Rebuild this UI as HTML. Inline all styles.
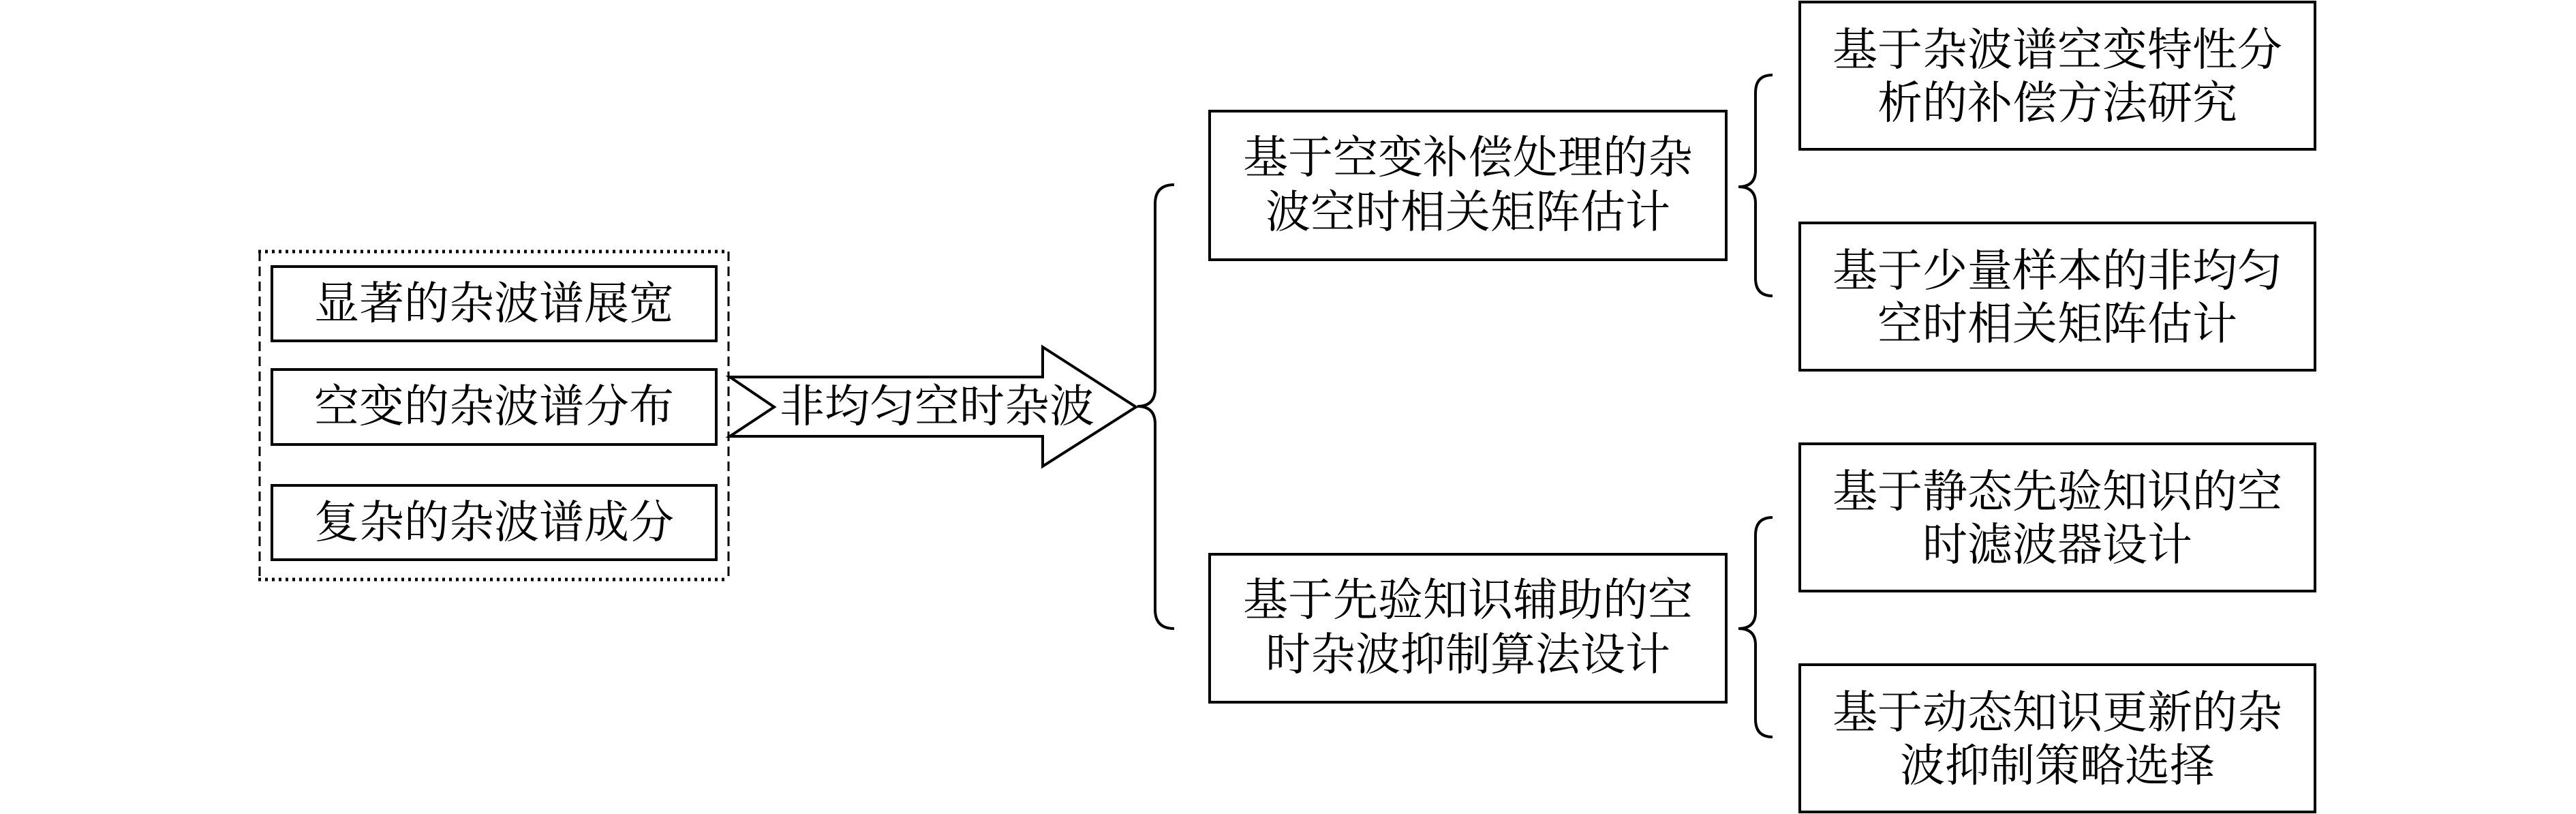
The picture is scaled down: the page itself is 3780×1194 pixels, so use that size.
<!DOCTYPE html>
<html><head><meta charset="utf-8"><style>
html,body{margin:0;padding:0;background:#fff;}
svg{display:block;}
text{font-family:"Liberation Serif","Noto Serif CJK SC",serif;font-size:66px;fill:#000;}
</style></head><body>
<svg width="3780" height="1194" viewBox="0 0 3780 1194" xmlns="http://www.w3.org/2000/svg">
<g fill="none" stroke="#000" stroke-width="4">
<!-- dashed group -->
<line x1="379" y1="369" x2="1069" y2="369" stroke-dasharray="4 6" stroke-width="5"/>
<line x1="379" y1="850" x2="1069" y2="850" stroke-dasharray="4 6" stroke-width="5"/>
<line x1="381" y1="369" x2="381" y2="850" stroke-dasharray="14 8" stroke-width="3"/>
<line x1="1069" y1="369" x2="1069" y2="850" stroke-dasharray="14 8" stroke-width="3"/>
<rect x="399" y="391" width="652" height="109"/>
<rect x="399" y="542" width="652" height="110"/>
<rect x="399" y="712" width="652" height="109"/>
<!-- arrow -->
<path d="M1071 553 L1530 553 L1530 509 L1667 597 L1530 684 L1530 640 L1071 640 L1136 597 Z"/>
<!-- big brace -->
<path d="M1723 271 Q1695 271 1695 299 L1695 570 Q1695 596 1669 596 Q1695 596 1695 622 L1695 894 Q1695 922 1723 922"/>
<!-- mid boxes -->
<rect x="1775" y="163" width="758" height="218"/>
<rect x="1775" y="813" width="758" height="217"/>
<!-- right braces -->
<path d="M2601 110 Q2576 110 2576 136 L2576 250 Q2576 274 2551 274 Q2576 274 2576 298 L2576 408 Q2576 434 2601 434"/>
<path d="M2601 759 Q2576 759 2576 785 L2576 898 Q2576 922 2551 922 Q2576 922 2576 946 L2576 1055 Q2576 1081 2601 1081"/>
<!-- right boxes -->
<rect x="2641" y="3" width="756" height="216"/>
<rect x="2641" y="327" width="756" height="216"/>
<rect x="2641" y="651" width="756" height="216"/>
<rect x="2641" y="975" width="756" height="216"/>
</g>
<g text-anchor="middle" dominant-baseline="central">
<text x="725" y="446">显著的杂波谱展宽</text>
<text x="725" y="597">空变的杂波谱分布</text>
<text x="725" y="767">复杂的杂波谱成分</text>
<text x="1375" y="597">非均匀空时杂波</text>
<text x="2154" y="232">基于空变补偿处理的杂</text>
<text x="2154" y="312">波空时相关矩阵估计</text>
<text x="2154" y="881">基于先验知识辅助的空</text>
<text x="2154" y="961">时杂波抑制算法设计</text>
<text x="3019" y="74">基于杂波谱空变特性分</text>
<text x="3019" y="152">析的补偿方法研究</text>
<text x="3019" y="398">基于少量样本的非均匀</text>
<text x="3019" y="476">空时相关矩阵估计</text>
<text x="3019" y="722">基于静态先验知识的空</text>
<text x="3019" y="800">时滤波器设计</text>
<text x="3019" y="1046">基于动态知识更新的杂</text>
<text x="3019" y="1124">波抑制策略选择</text>
</g>
</svg>
</body></html>
